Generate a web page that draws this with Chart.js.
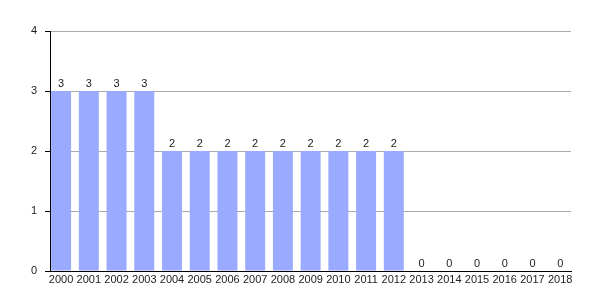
<!DOCTYPE html>
<html>
<head>
<meta charset="utf-8">
<script src="https://cdn.jsdelivr.net/npm/chart.js@4"></script>
<style>
  html, body { margin: 0; padding: 0; background: #fff; }
  #wrap { width: 600px; height: 300px; }
</style>
</head>
<body>
<div id="wrap"><canvas id="chart" width="600" height="300"></canvas></div>
<script>
const years = ['2000', '2001', '2002', '2003', '2004', '2005', '2006', '2007', '2008', '2009',
  '2010', '2011', '2012', '2013', '2014', '2015', '2016', '2017', '2018'];
const counts = [3, 3, 3, 3, 2, 2, 2, 2, 2, 2, 2, 2, 2, 0, 0, 0, 0, 0, 0];
const yTicks = [0, 1, 2, 3, 4];

const font = { family: 'Liberation Sans, Arial, sans-serif', size: 11 };

// value labels above each bar
const barLabels = {
  id: 'barLabels',
  afterDatasetsDraw(chart) {
    const ctx = chart.ctx;
    const meta = chart.getDatasetMeta(0);
    ctx.save();
    ctx.font = '11px Liberation Sans, Arial, sans-serif';
    ctx.fillStyle = '#222';
    ctx.textAlign = 'center';
    ctx.textBaseline = 'bottom';
    meta.data.forEach((bar, i) => {
      ctx.fillText(String(counts[i]), bar.x, bar.y - 2);
    });
    ctx.restore();
  }
};

new Chart(document.getElementById('chart'), {
  type: 'bar',
  data: {
    labels: years,
    datasets: [{
      data: counts,
      backgroundColor: '#99aaff',
      borderWidth: 0,
      barPercentage: 0.75,
      categoryPercentage: 0.96
    }]
  },
  options: {
    responsive: false,
    animation: false,
    layout: { padding: { top: 31, right: 29, left: 0, bottom: 0 } },
    plugins: { legend: { display: false }, tooltip: { enabled: false } },
    scales: {
      x: {
        grid: { display: false, drawTicks: false },
        border: { color: '#000', width: 1 },
        ticks: { color: '#222', font, padding: 2, maxRotation: 0, autoSkip: false },
        afterFit: s => { s.height = 29; },
        // the original hugs the y axis a bit tighter than a plain category offset
        afterUpdate: s => { s._startValue = -0.4; s._valueRange = 18.79; }
      },
      y: {
        min: yTicks[0],
        max: yTicks[yTicks.length - 1],
        afterBuildTicks: s => { s.ticks = yTicks.map(v => ({ value: v })); },
        grid: { color: '#aaa', tickColor: '#000', tickLength: 5 },
        border: { color: '#000', width: 1 },
        ticks: { color: '#222', font, padding: 8 },
        afterFit: s => { s.width = 50; }
      }
    }
  },
  plugins: [barLabels]
});
</script>
</body>
</html>
